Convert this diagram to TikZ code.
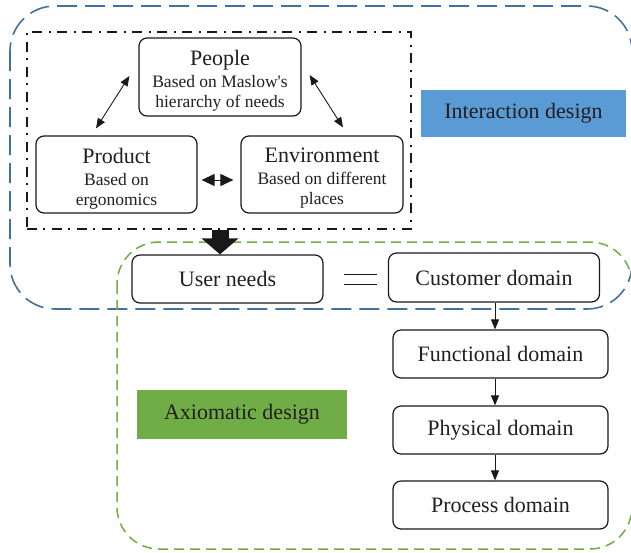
\documentclass[tikz,border=0pt]{standalone}
\usepackage{fontspec}
\newfontfamily\tnr{Liberation Serif}
\usetikzlibrary{arrows.meta,calc}
\definecolor{txt}{HTML}{231F20}
\definecolor{bline}{HTML}{41719C}
\definecolor{bfill}{HTML}{5B9BD5}
\definecolor{gr}{HTML}{70AD47}
\newcommand{\boxtext}[3]{\raisebox{-5pt}[\height][\depth]{\begin{tabular}{@{}c@{}}{\fontsize{22}{22}\selectfont #1}\\[2pt]#2\\#3\end{tabular}}}
\begin{document}
\begin{tikzpicture}[x=1pt,y=-1pt,
  box/.style={draw=black!90, line width=1.2pt, rounded corners=8pt, fill=white,
    text=txt, align=center, inner sep=0pt},
  bigf/.style={font={\tnr\fontsize{22}{22}\selectfont}},
  smallf/.style={font={\tnr\fontsize{17.5}{20}\selectfont}},
  label/.style={text=txt, inner sep=0pt, font={\tnr\fontsize{22}{22}\selectfont}},
  bluedash/.style={draw=bline, line width=1.6pt, dash pattern=on 20pt off 8pt},
  greendash/.style={draw=gr, line width=1.5pt, dash pattern=on 10pt off 6pt},
  dashdot/.style={draw=black!90, line width=1.3pt, dash pattern=on 10pt off 6pt on 2pt off 7pt},
  dblarrow/.style={draw=black!90, line width=0.9pt, {Triangle[length=10pt,width=8pt]}-{Triangle[length=10pt,width=8pt]}},
  shortdbl/.style={draw=black!90, line width=1pt, {Triangle[length=13pt,width=12pt]}-{Triangle[length=13pt,width=12pt]}},
  downarrow/.style={draw=black!90, line width=1pt, -{Triangle[length=10pt,width=8pt]}},
  bigarrow/.style={draw=black!90, line width=17pt, -{Triangle[length=16pt,width=36pt]}},
]
\useasboundingbox (0,0) rectangle (631,552);
% regions
\draw[bluedash, rounded corners=45pt] (10,6) rectangle (632,309);
\draw[greendash, rounded corners=42pt] (117,242) rectangle (632,549);
% dash-dot frame
\node[dashdot, minimum width=384pt, minimum height=197pt, inner sep=0pt] (dd) at (219,130.5) {};
% label boxes
\node[label, fill=bfill, minimum width=205pt, minimum height=47pt] (id) at (523.5,113.5) {Interaction design};
\node[label, fill=gr, minimum width=210pt, minimum height=49pt] (ad) at (242,414.5) {Axiomatic design};
% top triangle
\node[box, smallf, minimum width=162pt, minimum height=78pt] (pe) at (220,77)
  {\boxtext{People}{Based on Maslow's}{hierarchy of needs}};
\node[box, smallf, minimum width=161pt, minimum height=77pt] (pr) at (116.5,174.5)
  {\boxtext{Product}{Based on}{ergonomics}};
\node[box, smallf, minimum width=162pt, minimum height=77pt] (en) at (322,174.5)
  {\boxtext{Environment}{Based on different}{places}};
% domains
\node[box, bigf, minimum width=191pt, minimum height=48pt] (un) at (227.5,279) {User needs};
\node[box, bigf, minimum width=211pt, minimum height=49pt] (cd) at (494,277.5) {Customer domain};
\node[box, bigf, minimum width=215pt, minimum height=48pt] (fd) at (500.5,354) {Functional domain};
\node[box, bigf, minimum width=215pt, minimum height=48pt] (ph) at (500.5,430) {Physical domain};
\node[box, bigf, minimum width=215pt, minimum height=48pt] (pc) at (500.5,505) {Process domain};
% connectors
\draw[dblarrow] ($(pe.west)+(-9,-1)$) -- ($(pr.north)+(-20.5,-7)$);
\draw[dblarrow] ($(pe.east)+(8,-2)$) -- ($(en.north)+(21,-8)$);
\draw[shortdbl] ($(pr.east)+(4,5.5)$) -- ($(en.west)+(-7,5.5)$);
\draw[bigarrow] (pe.south |- dd.south) -- (pe.south |- un.north);
\draw[draw=black!90, line width=1pt, double distance=9pt, shorten <=20pt, shorten >=11pt]
  (un.east) -- (un.east -| cd.west);
\draw[downarrow] (cd.south -| 495,0) -- (fd.north -| 495,0);
\draw[downarrow] (fd.south -| 495,0) -- (ph.north -| 495,0);
\draw[downarrow] (ph.south -| 495,0) -- (pc.north -| 495,0);
\end{tikzpicture}
\end{document}
